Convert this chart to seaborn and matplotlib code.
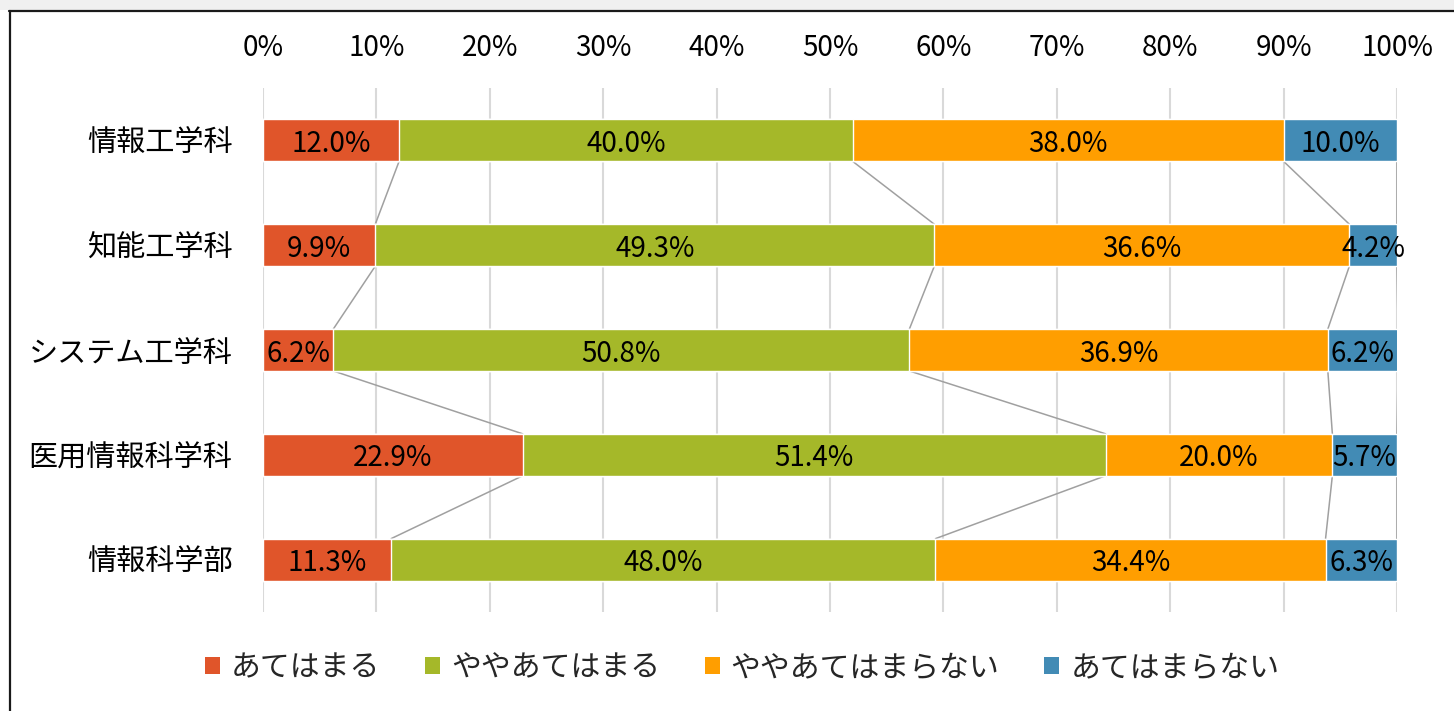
import matplotlib
matplotlib.use("Agg")
import matplotlib.pyplot as plt
from matplotlib.patches import Patch, Rectangle
import seaborn as sns
import numpy as np

categories = ["情報工学科", "知能工学科", "システム工学科", "医用情報科学科", "情報科学部"]
series_names = ["あてはまる", "ややあてはまる", "ややあてはまらない", "あてはまらない"]
s_atehamaru = [12.0, 9.9, 6.2, 22.9, 11.3]
s_yaya_atehamaru = [40.0, 49.3, 50.8, 51.4, 48.0]
s_yaya_atehamaranai = [38.0, 36.6, 36.9, 20.0, 34.4]
s_atehamaranai = [10.0, 4.2, 6.2, 5.7, 6.3]
colors = ["#E0552A", "#A5B829", "#FF9E00", "#428BB5"]
xticks = [0, 10, 20, 30, 40, 50, 60, 70, 80, 90, 100]

sns.set_theme(style="white")
plt.rcParams["font.family"] = ["Noto Sans CJK JP", "DejaVu Sans"]

fig = plt.figure(figsize=(14.54, 7.11), dpi=100)
W, H = 1454, 711
ax = fig.add_axes([263 / W, 1 - 612 / H, (1397 - 263) / W, (612 - 88) / H])

series = [s_atehamaru, s_yaya_atehamaru, s_yaya_atehamaranai, s_atehamaranai]
vals = np.array(series)
cum = np.cumsum(vals, axis=0)

# draw cumulative bars from largest to smallest (stacking)
for k in range(3, -1, -1):
    sns.barplot(x=cum[k], y=categories, orient="h", color=colors[k],
                saturation=1, width=0.4, ax=ax, zorder=3)

# connector (series) lines
n = len(categories)
for k in range(4):
    for i in range(n - 1):
        ax.plot([cum[k][i], cum[k][i + 1]], [i + 0.2, i + 1 - 0.2],
                color="#A0A0A0", lw=1.1, zorder=2.5)

# data labels
for k in range(4):
    for i in range(n):
        left = cum[k][i] - vals[k][i]
        ax.text(left + vals[k][i] / 2, i + 0.035, f"{vals[k][i]:.1f}%",
                ha="center", va="center", fontsize=20, color="black", zorder=5)

ax.set_xlim(0, 100)
ax.set_ylim(n - 0.5, -0.5)
ax.set_xticks(xticks)
ax.set_xticklabels([f"{t}%" for t in xticks])
ax.xaxis.tick_top()
ax.tick_params(axis="x", length=0, pad=18, labelsize=20, colors="black")
ax.tick_params(axis="y", length=0, pad=22, labelsize=21, colors="black")
ax.set_xlabel("")
ax.set_ylabel("")
ax.xaxis.grid(True, color="#D9D9D9", lw=1.5)
ax.yaxis.grid(False)
ax.set_axisbelow(True)
for s in ax.spines.values():
    s.set_visible(False)

handles = [Patch(facecolor=c, edgecolor="none") for c in colors]
fig.legend(handles, series_names, loc="center", bbox_to_anchor=(742 / W, 1 - 668 / H),
           ncol=4, frameon=False, fontsize=21.5, handlelength=0.5, handleheight=0.5,
           handletextpad=0.37, columnspacing=1.5)

# top gray band and border
fig.patches.append(Rectangle((0, 1 - 10 / H), 1, 10 / H, transform=fig.transFigure,
                             facecolor="#F0F0F0", edgecolor="none", zorder=0))
fig.add_artist(plt.Line2D([9 / W, 1], [1 - 11 / H, 1 - 11 / H], color="#1A1A1A", lw=1.6,
                          transform=fig.transFigure))
fig.add_artist(plt.Line2D([9.8 / W, 9.8 / W], [0, 1 - 11 / H], color="#1A1A1A", lw=1.6,
                          transform=fig.transFigure))

fig.savefig("out.png", dpi=100)
